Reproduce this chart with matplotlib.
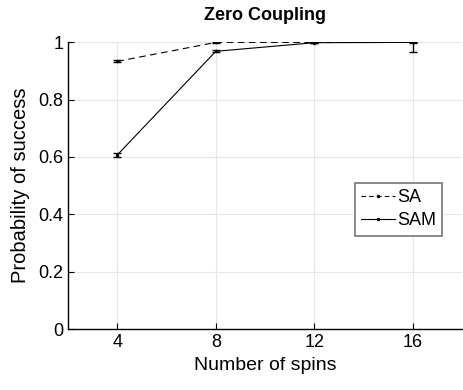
import matplotlib.pyplot as plt
from matplotlib.lines import Line2D

plt.rcParams['font.family'] = ['Liberation Sans', 'DejaVu Sans']

spins = [4, 8, 12, 16]
sa_mean = [0.933, 0.999, 0.999, 0.999]
sa_err_lo = [0.004, 0.001, 0.001, 0.035]
sa_err_hi = [0.004, 0.001, 0.001, 0.001]
sam_mean = [0.607, 0.968, 0.998, 0.999]
sam_err = [0.008, 0.003, 0.001, 0.001]

fig = plt.figure(figsize=(4.63, 3.9), dpi=100)
ax = fig.add_axes([0.147, 0.156, 0.851, 0.736])

ax.errorbar(spins, sa_mean, yerr=[sa_err_lo, sa_err_hi], color='black', ls=(0, (6, 4)),
            lw=0.8, marker='.', ms=3, capsize=3, elinewidth=1.0)
ax.errorbar(spins, sam_mean, yerr=sam_err, color='black', ls='-', lw=0.8,
            marker='.', ms=3, capsize=3, elinewidth=1.0)

ax.set_xlim(2, 18)
ax.set_ylim(0, 1)
ax.set_xticks(spins)
ax.set_yticks([0, 0.2, 0.4, 0.6, 0.8, 1])
ax.set_yticklabels(['0', '0.2', '0.4', '0.6', '0.8', '1'])
ax.grid(True, color='#e6e6e6', lw=0.8)
ax.set_axisbelow(True)
for s in ['top', 'right']:
    ax.spines[s].set_visible(False)
for s in ['left', 'bottom']:
    ax.spines[s].set_linewidth(1.0)
ax.tick_params(labelsize=13, direction='in', length=4)

ax.set_xlabel('Number of spins', fontsize=14)
ax.set_ylabel('Probability of success', fontsize=14.5, labelpad=6)
ax.set_title('Zero Coupling', fontsize=13, fontweight='bold', pad=16)

handles = [
    Line2D([], [], color='black', ls=(0, (4, 3)), lw=0.8, marker='.', ms=3),
    Line2D([], [], color='black', ls='-', lw=0.8, marker='.', ms=3),
]
leg = ax.legend(handles, ['SA', 'SAM'], loc='center right', bbox_to_anchor=(0.95, 0.418),
                fontsize=13, fancybox=False, framealpha=1, edgecolor='#777777',
                handlelength=1.9, handletextpad=0.1, borderpad=0.35, labelspacing=0.35,
                borderaxespad=0)
leg.get_frame().set_linewidth(1.2)

fig.savefig('out.png', dpi=100)
